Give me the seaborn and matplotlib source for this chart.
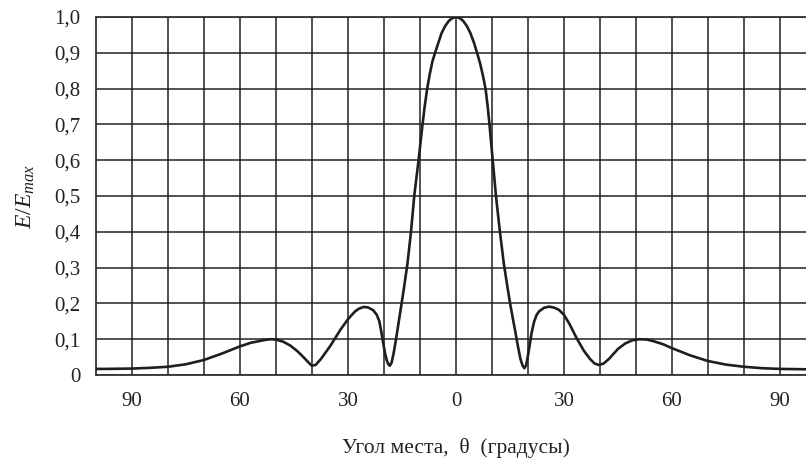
import matplotlib
matplotlib.use("Agg")
import matplotlib.pyplot as plt
import seaborn as sns
import pandas as pd

# Elevation angle (degrees) and normalised field strength
theta = [-100.0, -97.4, -90, -85, -80, -75, -70, -65, -60, -57, -55, -53, -51.5, -50, -48,
         -46, -44, -42, -40.5, -40, -39, -37.5, -35, -33, -32, -30, -28, -27, -25.7,
         -24.5, -23, -22, -21.3, -20.7, -20.2, -19.7, -19.2, -18.8, -18.4, -17.9, -17.3,
         -16.5, -15.5, -14.5, -13.5, -12.5, -11.6, -10.4, -9.3, -8.7, -8.0, -7.3, -6.5,
         -5.8, -5.0, -4, -3, -2, -1, 0, 1, 2, 3, 4, 5.0, 6.0, 6.7, 7.4, 8.2, 8.8, 9.3,
         10.2, 11.1, 12.2, 13.3, 14.3, 15.2, 16.4, 17.3, 17.9, 18.5, 19.0, 19.5, 20.0,
         20.4, 21.0, 21.7, 22.4, 23.1, 24.5, 25.9, 27.3, 28.6, 30, 31.5, 33.5, 35.5,
         37.2, 38.5, 39.7, 41, 42.5, 45, 47, 49, 51, 53, 55, 57.5, 60, 65, 70, 75, 80,
         85, 90, 97.2, 100.0]
E = [0.017, 0.017, 0.018, 0.020, 0.023, 0.030, 0.042, 0.060, 0.080, 0.090, 0.094,
     0.098, 0.100, 0.099, 0.093, 0.082, 0.066, 0.046, 0.030, 0.026, 0.028, 0.045,
     0.080, 0.112, 0.128, 0.156, 0.178, 0.185, 0.190, 0.189, 0.181, 0.168, 0.150,
     0.118, 0.088, 0.060, 0.040, 0.030, 0.026, 0.034, 0.062, 0.110, 0.175, 0.240,
     0.310, 0.400, 0.500, 0.600, 0.700, 0.750, 0.800, 0.840, 0.878, 0.900, 0.925,
     0.955, 0.975, 0.989, 0.997, 1.000, 0.997, 0.989, 0.975, 0.955, 0.928, 0.895,
     0.870, 0.840, 0.800, 0.750, 0.700, 0.600, 0.500, 0.400, 0.310, 0.245, 0.190,
     0.125, 0.075, 0.045, 0.026, 0.019, 0.028, 0.055, 0.079, 0.118, 0.149, 0.168,
     0.178, 0.188, 0.191, 0.188, 0.182, 0.168, 0.143, 0.103, 0.068, 0.045, 0.032,
     0.028, 0.032, 0.045, 0.073, 0.088, 0.097, 0.100, 0.099, 0.094, 0.086, 0.075,
     0.055, 0.039, 0.029, 0.023, 0.019, 0.017, 0.016, 0.016]

x_major = [-90, -60, -30, 0, 30, 60, 90]
x_labels = ["90", "60", "30", "0", "30", "60", "90"]
x_minor = [-80, -70, -50, -40, -20, -10, 10, 20, 40, 50, 70, 80]
y_ticks = [0.0, 0.1, 0.2, 0.3, 0.4, 0.5, 0.6, 0.7, 0.8, 0.9, 1.0]
y_labels = ["0", "0,1", "0,2", "0,3", "0,4", "0,5", "0,6", "0,7", "0,8", "0,9", "1,0"]

sns.set_theme(style="white")
plt.rcParams["font.family"] = ["Liberation Serif", "DejaVu Serif"]
plt.rcParams["mathtext.fontset"] = "custom"
plt.rcParams["mathtext.it"] = "Liberation Serif:italic"
plt.rcParams["mathtext.rm"] = "Liberation Serif"

fig = plt.figure(figsize=(8.06, 4.62), dpi=100)
ax = fig.add_axes([96 / 806, 87 / 462, 720 / 806, 358 / 462])

df = pd.DataFrame({"theta": theta, "E": E})
sns.lineplot(data=df, x="theta", y="E", ax=ax, color="#1e1e1e", linewidth=1.9,
             estimator=None, sort=False, zorder=5)

ax.set_xlim(-100, 100)
ax.set_ylim(0, 1.0)
ax.set_xticks(x_major)
ax.set_xticklabels(x_labels)
ax.set_xticks(x_minor, minor=True)
ax.set_yticks(y_ticks)
ax.set_yticklabels(y_labels)
ax.grid(True, which="both", color="#222222", linewidth=1.1)
ax.tick_params(axis="both", which="both", length=0, labelsize=15, colors="#222222")
ax.tick_params(axis="x", pad=12)
ax.tick_params(axis="y", pad=11)
for side in ["left", "bottom", "top", "right"]:
    ax.spines[side].set_color("#333333")
    ax.spines[side].set_linewidth(1.3)

ax.set_xlabel("Угол места,  θ  (градусы)", fontsize=15.5, color="#222222", labelpad=20)
ax.set_ylabel(r"$E/E_{max}$", fontsize=17, color="#222222")
ax.yaxis.set_label_coords(-0.082, 0.5)

fig.savefig("out.png", dpi=100)
